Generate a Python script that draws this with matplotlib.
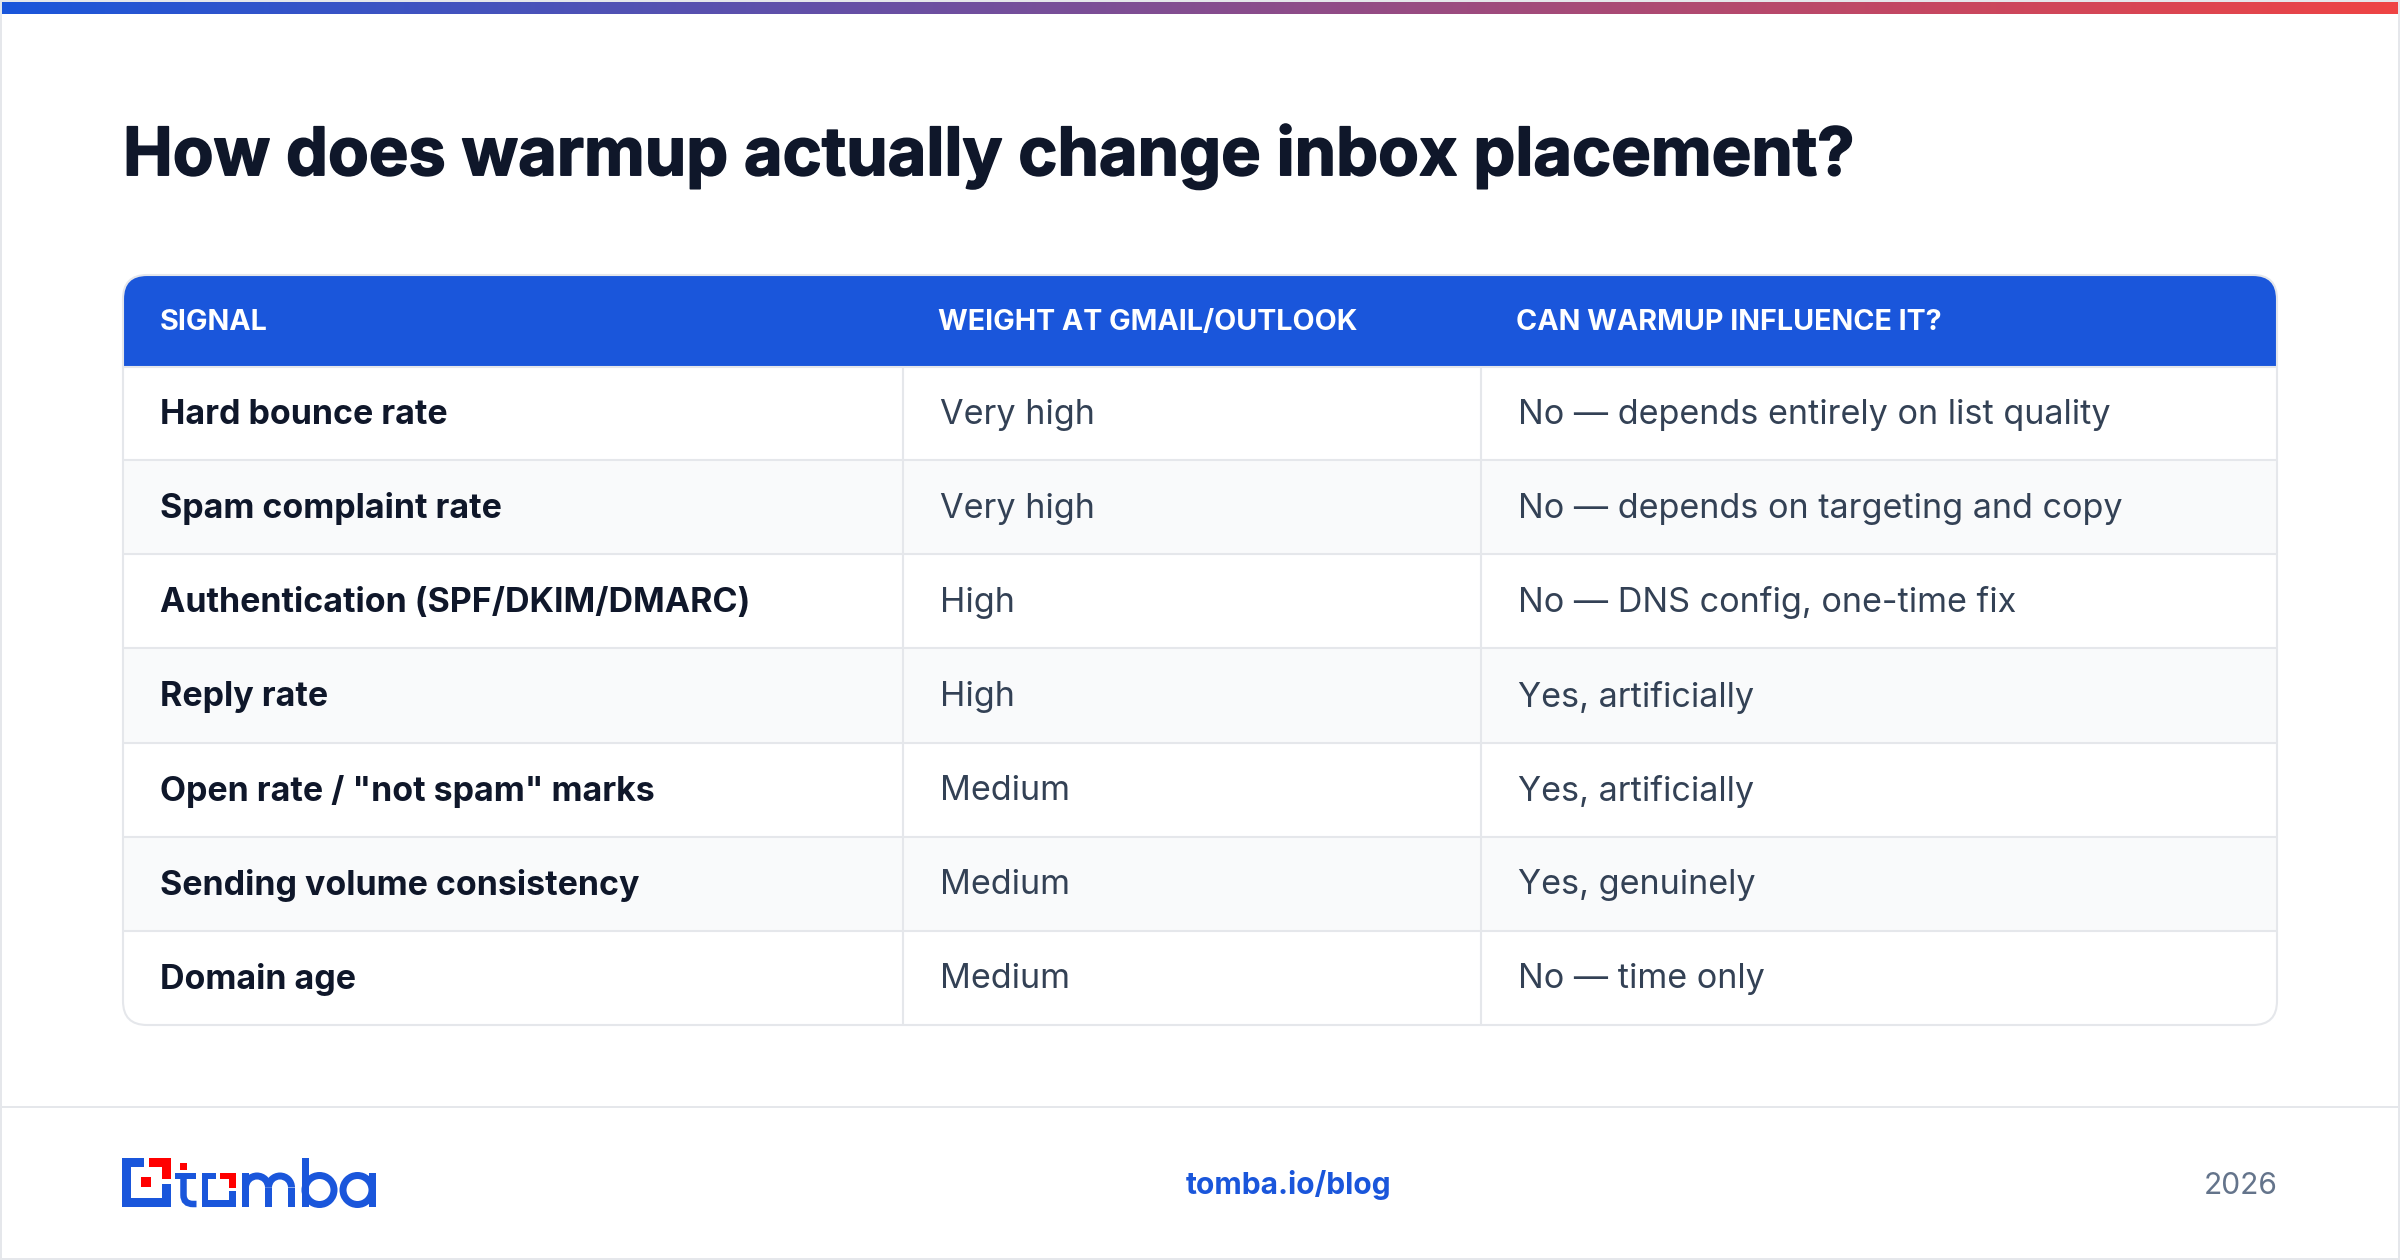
import matplotlib
matplotlib.use('Agg')
import matplotlib.pyplot as plt
import matplotlib.patheffects as pe
import numpy as np
from matplotlib.patches import FancyBboxPatch, Rectangle, Wedge, PathPatch
from matplotlib.path import Path

plt.rcParams['font.family'] = ['Inter', 'DejaVu Sans']

title = 'How does warmup actually change inbox placement?'
headers = ['SIGNAL', 'WEIGHT AT GMAIL/OUTLOOK', 'CAN WARMUP INFLUENCE IT?']
signals = ['Hard bounce rate', 'Spam complaint rate', 'Authentication (SPF/DKIM/DMARC)', 'Reply rate',
           'Open rate / "not spam" marks', 'Sending volume consistency', 'Domain age']
weights = ['Very high', 'Very high', 'High', 'High', 'Medium', 'Medium', 'Medium']
influence = ['No — depends entirely on list quality', 'No — depends on targeting and copy',
             'No — DNS config, one-time fix', 'Yes, artificially', 'Yes, artificially',
             'Yes, genuinely', 'No — time only']

BLUE = '#1a56db'
RED = '#ff0000'
LINE = '#e5e7eb'
DARK = '#0f172a'
BODY = '#334155'

fig = plt.figure(figsize=(24, 12.6), dpi=100)
ax = fig.add_axes([0, 0, 1, 1])


def px(n):
    return n * 0.72


def box(x0, y0, x1, y1, c, z=3):
    ax.add_patch(Rectangle((x0, y0), x1 - x0, y1 - y0, fc=c, ec='none', zorder=z))


# outer frame and top gradient
for r in [(0, 0, 2, 1260), (2398, 0, 2400, 1260), (0, 1258, 2400, 1260), (0, 0, 2400, 2)]:
    box(*r, LINE, 1)
grad = np.linspace(0, 1, 512)[None, :, None] * (np.array([239, 68, 68]) - np.array([26, 86, 219])) + np.array([26, 86, 219])
ax.imshow(grad / 255, extent=(2, 2398, 14, 2), aspect='auto', zorder=2)
ax.set_xlim(0, 2400)
ax.set_ylim(1260, 0)
ax.axis('off')

# matplotlib has no letter spacing, so a smaller size plus a stroke stands in for tight heavy type
ax.text(123, 157, title, fontsize=px(66.6), fontweight='bold', color=DARK, va='center', ha='left',
        path_effects=[pe.withStroke(linewidth=px(1.6), foreground=DARK)])

# table
L, R, T, B = 123, 2277, 275, 1025
c1, c2 = 903, 1481
head_b = 366
row_h = (B - head_b) / len(signals)
card = FancyBboxPatch((L, T), R - L, B - T, boxstyle='round,pad=0,rounding_size=24', fc='none', ec=LINE,
                      lw=1.5, zorder=6)
ax.add_patch(card)
back = FancyBboxPatch((L, T), R - L, B - T, boxstyle='round,pad=0,rounding_size=24', fc='white', ec='none', zorder=2)
ax.add_patch(back)
hdr = Rectangle((L, T), R - L, head_b - T, fc=BLUE, ec='none', zorder=3)
ax.add_patch(hdr)
hdr.set_clip_path(back)
for i in range(len(signals)):
    y0 = head_b + i * row_h
    if i % 2 == 1:
        ax.add_patch(Rectangle((L, y0), R - L, row_h, fc='#f9fafb', ec='none', zorder=2.5))
    ax.plot([L, R], [y0 + (1 if i == 0 else 0)] * 2, color=LINE, lw=1.5, zorder=4, solid_capstyle='butt')
    ax.plot([c1, c1], [y0, y0 + row_h], color=LINE, lw=1.5, zorder=4, solid_capstyle='butt')
    ax.plot([c2, c2], [y0, y0 + row_h], color=LINE, lw=1.5, zorder=4, solid_capstyle='butt')
    yc = y0 + row_h / 2 + 1.5
    ax.text(160, yc, signals[i], fontsize=px(34), fontweight='bold', color=DARK, va='center', zorder=5)
    ax.text(940, yc, weights[i], fontsize=px(34.2), color=BODY, va='center', zorder=5)
    ax.text(1518, yc, influence[i], fontsize=px(34.2), color=BODY, va='center', zorder=5)
for x, h in zip([160, 938, 1516], headers):
    ax.text(x, 322.5, h, fontsize=px(28.7), fontweight='bold', color='white', va='center', zorder=5)

# footer
box(0, 1106, 2400, 1108, LINE, 1)
ax.text(1186, 1185.5, 'tomba.io/blog', fontsize=px(30), fontweight='bold', color=BLUE, va='center', ha='left')
ax.text(2278, 1185.5, '2026', fontsize=px(30), color='#64748b', va='center', ha='right')

# logo mark
for r in [(122, 1158, 131, 1207), (122, 1198, 171, 1207), (162, 1184, 171, 1207), (122, 1158, 144, 1167)]:
    box(*r, BLUE)
for r in [(149, 1158, 171, 1167), (162, 1158, 171, 1179), (141, 1177, 151, 1187)]:
    box(*r, RED)
# t
box(180, 1163, 187, 1170, RED)
box(175, 1173, 196, 1179, BLUE)
t_path = Path([(183.5, 1173), (183.5, 1195), (183.5, 1204), (193, 1204), (196.5, 1204)],
              [Path.MOVETO, Path.LINETO, Path.CURVE3, Path.CURVE3, Path.LINETO])
ax.add_patch(PathPatch(t_path, fc='none', ec=BLUE, lw=px(6.5), capstyle='butt', zorder=3))
# o
for r in [(202, 1173, 216, 1179), (202, 1173, 208, 1207), (202, 1200, 236, 1207), (229, 1191, 236, 1207)]:
    box(*r, BLUE)
for r in [(220, 1173, 236, 1179), (229, 1173, 236, 1188)]:
    box(*r, RED)
# m
box(242, 1173, 249, 1207, BLUE)
box(265, 1187.5, 272, 1207, BLUE)
box(288, 1187.5, 295, 1207, BLUE)
ax.add_patch(Wedge((257, 1187.5), 15, 180, 360, width=7, fc=BLUE, ec='none', zorder=3))
ax.add_patch(Wedge((280, 1187.5), 15, 180, 360, width=7, fc=BLUE, ec='none', zorder=3))
# b
box(302, 1158, 309, 1207, BLUE)
ax.add_patch(Wedge((319.5, 1190), 18, 0, 360, width=7, fc=BLUE, ec='none', zorder=3))
# a
box(368.5, 1173, 375.5, 1207, BLUE)
ax.add_patch(Wedge((357.5, 1190), 18, 0, 360, width=7, fc=BLUE, ec='none', zorder=3))

fig.savefig('out.png', dpi=100)
